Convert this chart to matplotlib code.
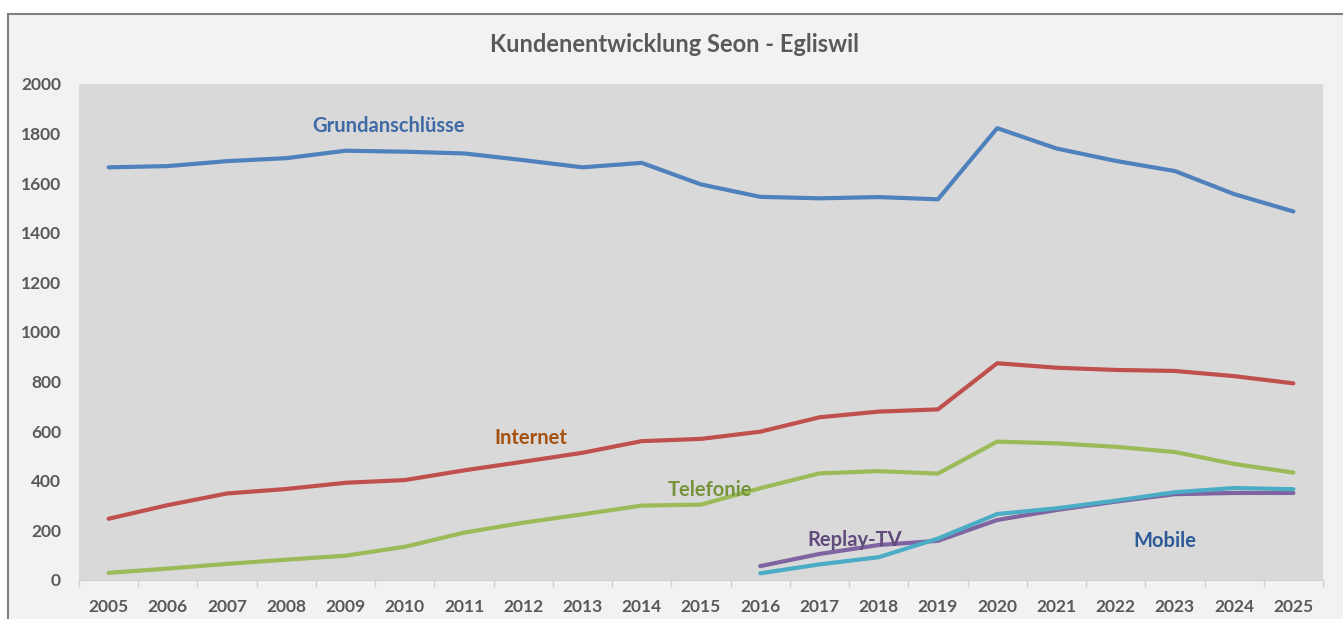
import numpy as np
import matplotlib.pyplot as plt
from matplotlib.patches import Rectangle

plt.rcParams['font.family'] = ['Lato', 'DejaVu Sans']

jahre = [str(j) for j in range(2005, 2026)]
grundanschluesse = [1664, 1669, 1689, 1701, 1731, 1727, 1720, 1693, 1664, 1682,
                    1595, 1545, 1539, 1544, 1535, 1822, 1740, 1690, 1649, 1556, 1486]
internet = [247, 302, 349, 367, 392, 403, 442, 477, 513, 560,
            569, 598, 656, 679, 688, 874, 856, 847, 843, 822, 793]
telefonie = [29, 46, 65, 82, 98, 134, 191, 231, 265, 300,
             304, 370, 430, 439, 429, 558, 551, 537, 516, 468, 433]
# Replay-TV und Mobile erst ab 2016
replay_tv = [56, 105, 141, 158, 242, 282, 316, 346, 351, 351]
mobile = [27, 63, 92, 167, 266, 289, 320, 354, 371, 366]

x = np.arange(len(jahre))
x_neu = x[len(jahre) - len(replay_tv):]

fig = plt.figure(figsize=(13.43, 6.19), dpi=100)
fig.patch.set_facecolor('white')
# Rahmen / Hintergrund des Diagramms
fig.patches.append(Rectangle((8 / 1343, -0.1), 1.1, 1 - 14 / 619 + 0.1,
                             transform=fig.transFigure, facecolor='#f2f2f2',
                             edgecolor='#808080', linewidth=1.5, zorder=-10))

ax = fig.add_axes([79 / 1343, 39 / 619, 1244 / 1343, 496 / 619])
ax.set_facecolor('#d9d9d9')

lw = 3.0
ax.plot(x, grundanschluesse, color='#4f81bd', lw=lw, solid_capstyle='round')
ax.plot(x, internet, color='#c0504d', lw=lw, solid_capstyle='round')
ax.plot(x, telefonie, color='#9bbb59', lw=lw, solid_capstyle='round')
ax.plot(x_neu, replay_tv, color='#8064a2', lw=lw, solid_capstyle='round')
ax.plot(x_neu, mobile, color='#4bacc6', lw=lw, solid_capstyle='round')

# Beschriftungen der Linien
lab = dict(fontsize=14.5, fontweight='bold', ha='center', va='center')
ax.text(4.72, 1830, 'Grundanschlüsse', color='#3f6aa6', **lab)
ax.text(7.13, 573, 'Internet', color='#a5520f', **lab)
ax.text(10.15, 363, 'Telefonie', color='#77933c', **lab)
ax.text(12.6, 161, 'Replay-TV', color='#604a7b', **lab)
ax.text(17.83, 157, 'Mobile', color='#2f5a98', **lab)

ax.set_xlim(-0.5, len(jahre) - 0.5)
ax.set_ylim(0, 2000)
ax.set_yticks(np.arange(0, 2001, 200))
ax.tick_params(axis='y', length=0, pad=13, labelsize=12.5, labelcolor='#595959')

ax.set_xticks(np.arange(-0.5, len(jahre)), labels=[])
ax.set_xticks(x, labels=jahre, minor=True)
ax.tick_params(axis='x', which='major', length=5, color='#d0d0d0', width=1)
ax.tick_params(axis='x', which='minor', length=0, pad=14, labelsize=12.5,
               labelcolor='#595959')
for t in ax.get_yticklabels() + ax.get_xticklabels(minor=True):
    t.set_fontweight('bold')

for s in ['top', 'right', 'left']:
    ax.spines[s].set_visible(False)
ax.spines['bottom'].set_color('#d0d0d0')

fig.text(675 / 1343, 1 - 45 / 619, 'Kundenentwicklung Seon - Egliswil',
         ha='center', va='center', fontsize=17, fontweight='bold',
         color='#595959')

fig.savefig('out.png', dpi=100, facecolor=fig.get_facecolor())
